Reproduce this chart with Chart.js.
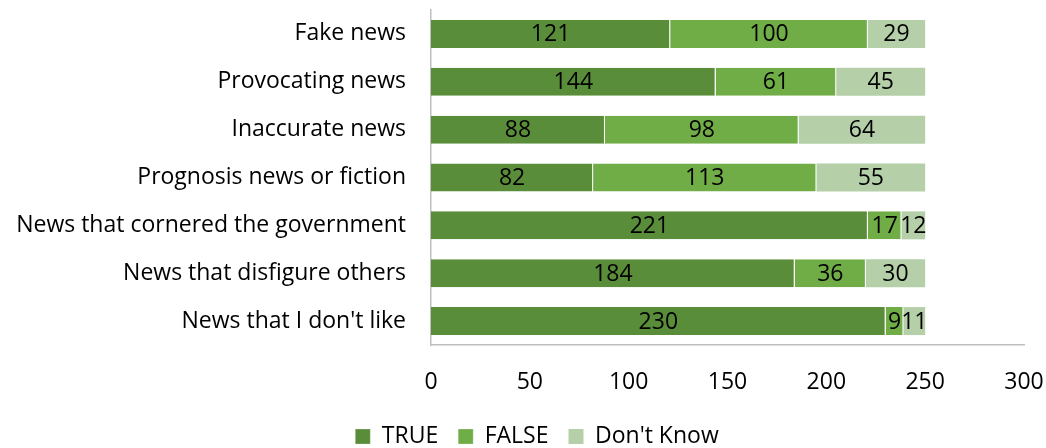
<!DOCTYPE html>
<html>
<head>
<meta charset="utf-8">
<script src="https://cdn.jsdelivr.net/npm/chart.js@4/dist/chart.umd.min.js"></script>
<style>
  html, body { margin: 0; padding: 0; background: #ffffff; }
  #wrap { width: 1046px; height: 448px; }
</style>
</head>
<body>
<div id="wrap"><canvas id="c" width="1046" height="448"></canvas></div>
<script>
const categories = [
  'Fake news',
  'Provocating news',
  'Inaccurate news',
  'Prognosis news or fiction',
  'News that cornered the government',
  'News that disfigure others',
  "News that I don't like"
];
const trueValues = [121, 144, 88, 82, 221, 184, 230];
const falseValues = [100, 61, 98, 113, 17, 36, 9];
const dontKnowValues = [29, 45, 64, 55, 12, 30, 11];
const xTicks = [0, 50, 100, 150, 200, 250, 300];

const FONT = "'Open Sans', 'Liberation Sans', sans-serif";
const FONT_SIZE = 23;

// Writes each segment's value in the middle of its bar
const segmentLabels = {
  id: 'segmentLabels',
  afterDatasetsDraw(chart) {
    const ctx = chart.ctx;
    ctx.save();
    ctx.font = FONT_SIZE + 'px ' + FONT;
    ctx.fillStyle = '#000000';
    ctx.textAlign = 'center';
    ctx.textBaseline = 'middle';
    chart.data.datasets.forEach((ds, di) => {
      const meta = chart.getDatasetMeta(di);
      meta.data.forEach((bar, i) => {
        const cx = (bar.x + bar.base) / 2;
        ctx.fillText(String(ds.data[i]), cx, bar.y + 1);
      });
    });
    ctx.restore();
  }
};

// Nudges the legend row to the right so it sits under the plot's centre
const legendShift = {
  id: 'legendShift',
  afterLayout(chart) {
    if (chart.legend) {
      chart.legend.left += 25;
      chart.legend.right += 25;
    }
  }
};

new Chart(document.getElementById('c'), {
  type: 'bar',
  data: {
    labels: categories,
    datasets: [
      { label: 'TRUE', data: trueValues, backgroundColor: '#5A8D3A', borderColor: '#ffffff', borderWidth: { right: 1 }, borderSkipped: false },
      { label: 'FALSE', data: falseValues, backgroundColor: '#70AD47', borderColor: '#ffffff', borderWidth: { right: 1 }, borderSkipped: false },
      { label: "Don't Know", data: dontKnowValues, backgroundColor: '#B5D0A8', borderWidth: 0 }
    ]
  },
  options: {
    indexAxis: 'y',
    responsive: false,
    animation: false,
    devicePixelRatio: 1,
    layout: { padding: { top: 10, right: 22, bottom: -10, left: 0 } },
    datasets: { bar: { categoryPercentage: 1, barPercentage: 0.585 } },
    plugins: {
      legend: {
        position: 'bottom',
        labels: {
          font: { family: FONT, size: FONT_SIZE },
          color: '#000000',
          boxWidth: 15,
          boxHeight: 15,
          padding: 20
        }
      },
      tooltip: { enabled: false }
    },
    scales: {
      x: {
        stacked: true,
        min: 0,
        max: 300,
        afterBuildTicks(scale) { scale.ticks = xTicks.map(v => ({ value: v })); },
        afterFit(scale) { scale.height = 60; scale.paddingLeft = 0; scale.paddingRight = 0; },
        grid: { display: false, drawTicks: false },
        border: { display: true, color: '#BFBFBF', width: 1.5 },
        ticks: { font: { family: FONT, size: FONT_SIZE }, color: '#000000', padding: 24, maxRotation: 0 }
      },
      y: {
        stacked: true,
        afterFit(scale) { scale.width = 431; scale.paddingTop = 0; scale.paddingBottom = 0; },
        grid: { display: false, drawTicks: false },
        border: { display: true, color: '#BFBFBF', width: 1.5 },
        ticks: { font: { family: FONT, size: FONT_SIZE }, color: '#000000', padding: 25 }
      }
    }
  },
  plugins: [segmentLabels, legendShift]
});
</script>
</body>
</html>
